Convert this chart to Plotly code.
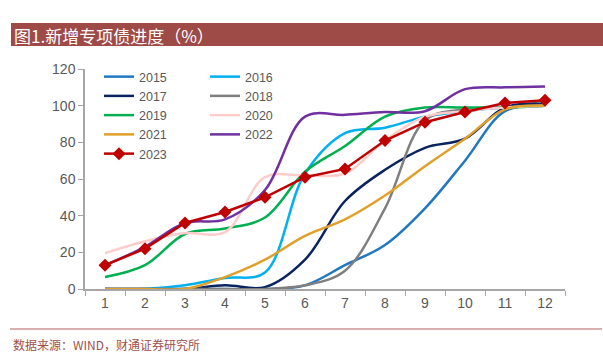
import plotly.graph_objects as go

months = ["1", "2", "3", "4", "5", "6", "7", "8", "9", "10", "11", "12"]

s2015 = [0, 0, 0, 0, 0, 2, 13, 24, 44, 70, 97, 100]
s2016 = [0, 0, 2, 6, 9, 63, 85, 88, 94, 97, 99, 100]
s2017 = [0, 0, 0, 2, 1, 16, 48, 65, 77, 82, 99, 101]
s2018 = [0, 0, 0, 0, 0, 2, 10, 44, 92, 98, 99, 100]
s2019 = [6.5, 13, 30, 33, 39, 64, 78, 94, 99, 99, 99, 100]
s2020 = [19.5, 26, 30.5, 31, 61, 62, 63, 81, 94, 97, 99, 100]
s2021 = [0, 0, 0, 6.5, 16, 29, 38, 51, 67, 82, 98, 100]
s2022 = [13, 23, 36, 38, 54, 94, 95, 96.5, 97, 109, 110, 110.5]
s2023 = [13, 22, 36, 42, 50, 61, 65.5, 81, 91, 96.5, 101.5, 103]

series = [
    ("2015", s2015, "#1F78C1", "legend"),
    ("2016", s2016, "#00B0F0", "legend2"),
    ("2017", s2017, "#0A2460", "legend"),
    ("2018", s2018, "#7F7F7F", "legend2"),
    ("2019", s2019, "#00B050", "legend"),
    ("2020", s2020, "#FFCCCC", "legend2"),
    ("2021", s2021, "#E0A02A", "legend"),
    ("2022", s2022, "#7030A0", "legend2"),
]

fig = go.Figure()
for name, vals, color, lg in series:
    fig.add_trace(go.Scatter(
        x=months, y=vals, name=name, mode="lines",
        line=dict(color=color, width=2.5, shape="spline", smoothing=1),
        legend=lg,
    ))
fig.add_trace(go.Scatter(
    x=months, y=s2023, name="2023", mode="lines+markers",
    line=dict(color="#C00000", width=2.5),
    marker=dict(symbol="diamond", size=10, color="#C00000"),
    legend="legend",
))

W, H = 603, 361
L, R, T, B = 85, 565, 69, 289

def px(x):
    return (x - L) / (R - L)

def py(y):
    return (B - y) / (B - T)

axis_col = "#A6A6A6"
tick_font = dict(family="Liberation Sans, Arial, sans-serif", size=14, color="#595959")
leg_font = dict(family="Liberation Sans, Arial, sans-serif", size=12.5, color="#595959")

fig.update_layout(
    width=W, height=H,
    margin=dict(l=L, r=W - R, t=T, b=H - B),
    paper_bgcolor="white", plot_bgcolor="white",
    xaxis=dict(type="category", range=[-0.5, 11.5], showline=True, linecolor=axis_col,
               linewidth=1.5, ticks="outside", tickson="boundaries", ticklen=5,
               tickcolor=axis_col, showgrid=False, zeroline=False, tickfont=tick_font),
    yaxis=dict(range=[0, 120], dtick=20, showline=True, linecolor=axis_col, linewidth=1.5,
               ticks="outside", ticklen=5, tickcolor=axis_col, showgrid=False,
               zeroline=False, tickfont=tick_font),
    legend=dict(x=px(99), y=py(62), xanchor="left", yanchor="top", font=leg_font,
                bgcolor="rgba(0,0,0,0)", tracegroupgap=0),
    legend2=dict(x=px(205), y=py(62), xanchor="left", yanchor="top", font=leg_font,
                 bgcolor="rgba(0,0,0,0)", tracegroupgap=0),
    showlegend=True,
)

# title bar
fig.add_shape(type="rect", xref="paper", yref="paper",
              x0=px(11), x1=px(603), y0=py(46), y1=py(23),
              fillcolor="#9E4A47", line=dict(width=0), layer="below")
fig.add_annotation(xref="paper", yref="paper", x=px(12), y=py(35), xanchor="left",
                   yanchor="middle", showarrow=False,
                   text="图1.新增专项债进度（%）",
                   font=dict(family="Noto Sans CJK SC", size=17, color="white"))
# bottom line and source
fig.add_shape(type="line", xref="paper", yref="paper",
              x0=px(10), x1=px(602), y0=py(329), y1=py(329),
              line=dict(color="#B5625E", width=1.2))
fig.add_annotation(xref="paper", yref="paper", x=px(11), y=py(344), xanchor="left",
                   yanchor="middle", showarrow=False,
                   text="数据来源：WIND，财通证券研究所",
                   font=dict(family="Noto Sans CJK SC", size=12, color="#A0504C"))

fig.write_html("out.html", config={"displayModeBar": False},
               post_script="document.body.style.margin='0px';")
